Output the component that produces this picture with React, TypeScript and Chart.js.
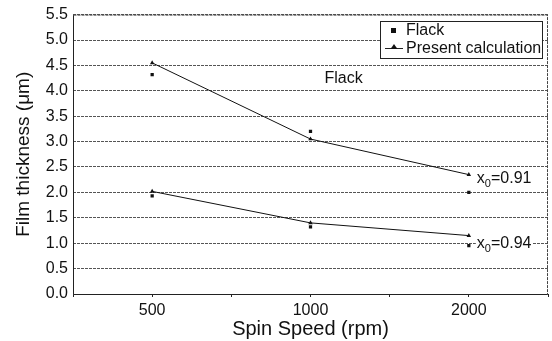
import React, { useEffect, useRef } from "react";
import { Chart, registerables } from "chart.js";

Chart.register(...registerables);

const categories = ["500", "1000", "2000"];
const flackUpper = [4.32, 3.2, 2.0];
const flackLower = [1.93, 1.32, 0.95];
const calcUpper = [4.55, 3.05, 2.35];
const calcLower = [2.02, 1.4, 1.15];
const yTicks = [0, 0.5, 1, 1.5, 2, 2.5, 3, 3.5, 4, 4.5, 5, 5.5];

const FONT = "'Liberation Sans', Arial, sans-serif";

const toXY = (vals: number[]) => vals.map((v, i) => ({ x: i, y: v }));

const overlayPlugin = {
  id: "overlay",
  afterDraw(chart: any) {
    const ctx = chart.ctx;
    const { left, right, top, bottom } = chart.chartArea;
    const xs = chart.scales.x;
    const ys = chart.scales.y;
    ctx.save();
    // frame
    ctx.strokeStyle = "#222";
    ctx.lineWidth = 1;
    ctx.setLineDash([]);
    ctx.beginPath();
    ctx.moveTo(left + 0.5, top + 0.5);
    ctx.lineTo(left + 0.5, bottom + 0.5);
    ctx.lineTo(right - 0.5, bottom + 0.5);
    ctx.stroke();
    ctx.strokeStyle = "#444";
    ctx.setLineDash([3, 1]);
    ctx.beginPath();
    ctx.moveTo(left + 0.5, top + 0.5);
    ctx.lineTo(right - 0.5, top + 0.5);
    ctx.lineTo(right - 0.5, bottom + 0.5);
    ctx.stroke();
    ctx.setLineDash([]);

    // annotations
    ctx.fillStyle = "#111";
    ctx.textBaseline = "middle";
    ctx.textAlign = "left";
    ctx.font = `16px ${FONT}`;
    ctx.fillText("Flack", xs.getPixelForValue(1) + 14, ys.getPixelForValue(4.25));

    const drawX0 = (px: number, py: number, val: string) => {
      ctx.font = `16px ${FONT}`;
      const w1 = ctx.measureText("x").width;
      ctx.font = `11px ${FONT}`;
      const w2 = ctx.measureText("0").width;
      ctx.font = `16px ${FONT}`;
      const w3 = ctx.measureText("=" + val).width;
      ctx.fillStyle = "#fff";
      ctx.fillRect(px - 1, py - 8, w1 + w2 + w3 + 2, 17);
      ctx.fillStyle = "#111";
      ctx.fillText("x", px, py);
      ctx.font = `11px ${FONT}`;
      ctx.fillText("0", px + w1, py + 5);
      ctx.font = `16px ${FONT}`;
      ctx.fillText("=" + val, px + w1 + w2, py);
    };
    const x2 = xs.getPixelForValue(2);
    drawX0(x2 + 8, ys.getPixelForValue(2.27), "0.91");
    drawX0(x2 + 8, ys.getPixelForValue(0.99), "0.94");

    // legend
    const lx = 380, ly = 21, lw = 163, lh = 38;
    ctx.fillStyle = "#fff";
    ctx.fillRect(lx, ly, lw, lh);
    ctx.strokeStyle = "#222";
    ctx.lineWidth = 1;
    ctx.strokeRect(lx + 0.5, ly + 0.5, lw - 1, lh - 1);
    const ds = chart.data.datasets;
    ctx.fillStyle = "#111";
    ctx.fillRect(391, 28, 5, 5);
    ctx.font = `16px ${FONT}`;
    ctx.fillText(ds[0].label, 406, 30.5);
    ctx.beginPath();
    ctx.moveTo(385, 48.5);
    ctx.lineTo(403, 48.5);
    ctx.stroke();
    ctx.beginPath();
    ctx.moveTo(394, 44);
    ctx.lineTo(397.5, 49);
    ctx.lineTo(390.5, 49);
    ctx.closePath();
    ctx.fill();
    ctx.fillText(ds[2].label, 406, 49);
    ctx.restore();
  },
};

export default function App() {
  const ref = useRef<HTMLCanvasElement>(null);
  useEffect(() => {
    if (!ref.current) return;
    const flackStyle = {
      showLine: false,
      pointStyle: "rect",
      pointRadius: 2.3,
      backgroundColor: "#111",
      borderColor: "#111",
      borderWidth: 0,
    };
    const calcStyle = {
      showLine: true,
      pointStyle: "triangle",
      pointRadius: 2.6,
      backgroundColor: "#111",
      borderColor: "#111",
      borderWidth: 1,
      pointBorderWidth: 0,
    };
    const chart = new Chart(ref.current, {
      type: "scatter",
      data: {
        datasets: [
          { label: "Flack", data: toXY(flackUpper), ...flackStyle } as any,
          { label: "Flack", data: toXY(flackLower), ...flackStyle } as any,
          { label: "Present calculation", data: toXY(calcUpper), ...calcStyle } as any,
          { label: "Present calculation", data: toXY(calcLower), ...calcStyle } as any,
        ],
      },
      options: {
        animation: false,
        responsive: false,
        layout: { padding: { top: 14, right: 4, left: 0, bottom: 0 } },
        plugins: { legend: { display: false }, tooltip: { enabled: false } },
        scales: {
          x: {
            type: "linear",
            min: -0.5,
            max: 2.5,
            afterBuildTicks: (scale: any) => {
              scale.ticks = [-0.5, 0, 0.5, 1, 1.5, 2, 2.5].map((v) => ({ value: v }));
            },
            afterFit: (scale: any) => {
              scale.height = 47;
            },
            ticks: {
              callback: (v: any) => (Number.isInteger(v) && v >= 0 && v < categories.length ? categories[v] : ""),
              color: "#111",
              font: { family: FONT, size: 16 },
              maxRotation: 0,
              autoSkip: false,
              padding: 4,
            },
            grid: { drawOnChartArea: false, tickLength: 3, color: "#222" },
            border: { display: false },
            title: {
              display: true,
              text: "Spin Speed (rpm)",
              color: "#111",
              font: { family: FONT, size: 20 },
              padding: { top: 0, bottom: 0 },
            },
          },
          y: {
            min: 0,
            max: 5.5,
            afterBuildTicks: (scale: any) => {
              scale.ticks = yTicks.map((v) => ({ value: v }));
            },
            afterFit: (scale: any) => {
              scale.width = 73;
            },
            ticks: {
              callback: (v: any) => Number(v).toFixed(1),
              color: "#111",
              font: { family: FONT, size: 16 },
              padding: 5,
            },
            grid: {
              color: "#555",
              lineWidth: 1,
              drawTicks: false,
            },
            border: { display: false, dash: [3, 1] },
            title: {
              display: true,
              text: "Film thickness (μm)",
              color: "#111",
              font: { family: FONT, size: 19 },
              padding: { top: 12, bottom: 0 },
            },
          },
        },
      } as any,
      plugins: [overlayPlugin],
    });
    return () => chart.destroy();
  }, []);
  return (
    <div style={{ position: "fixed", left: 0, top: 0, width: 552, height: 341, background: "#fff" }}>
      <canvas ref={ref} width={552} height={341} style={{ display: "block" }} />
    </div>
  );
}
